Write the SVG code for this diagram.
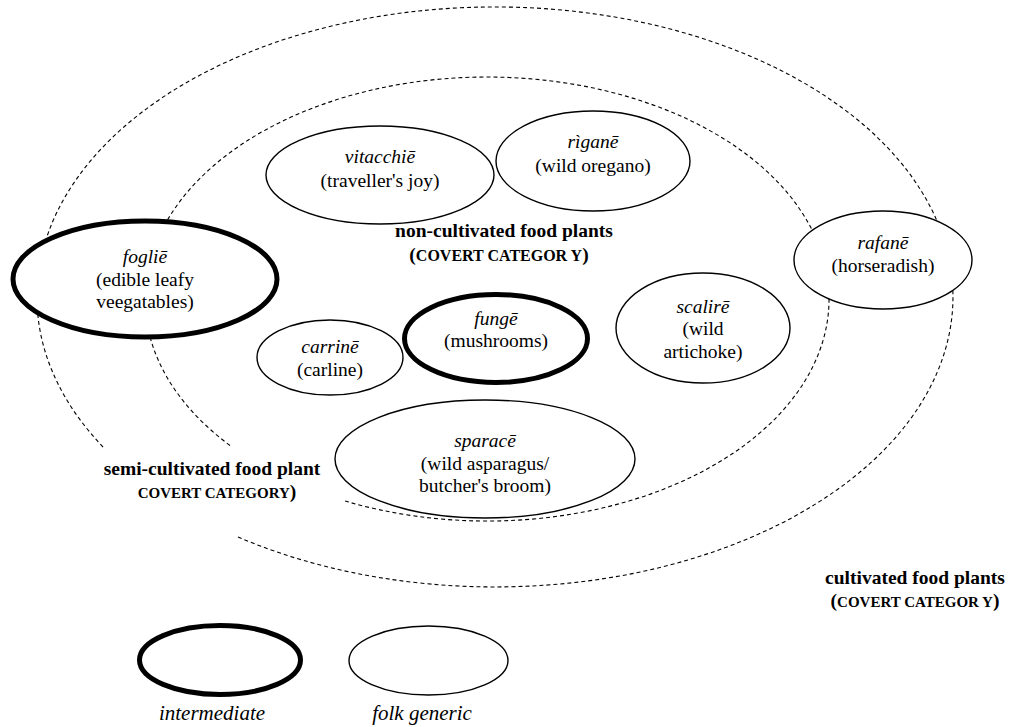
<svg xmlns="http://www.w3.org/2000/svg" width="1012" height="727" viewBox="0 0 1012 727">
<style>
.region{fill:none;stroke:#000;stroke-width:1.1;stroke-dasharray:4 3}
.fg{fill:#fff;stroke:#000;stroke-width:1.4}
.im{fill:#fff;stroke:#000;stroke-width:5}
text{font-family:"Liberation Serif","Times New Roman",serif;font-size:19.5px;fill:#000;text-anchor:middle}
.it{font-style:italic}
.b{font-weight:bold}
.sc{font-size:15px}
.sc2{font-size:16px}
.lg{font-size:21px;font-style:italic}
</style>
<rect width="1012" height="727" fill="#fff"/>
<g id="regions">
<path id="cultivated-boundary" class="region" d="M 238 537 A 458 290 0 1 0 104 448"/>
<path id="noncultivated-boundary" class="region" d="M 345.1 501 A 342 222 0 1 0 232.1 447"/>
</g>
<g id="vitacchie">
<ellipse class="fg" cx="380" cy="175" rx="114" ry="49"/>
<text x="380" y="163" class="it">vitacchiē</text>
<text x="380" y="187">(traveller's joy)</text>
</g>
<g id="rigane">
<ellipse class="fg" cx="593" cy="161" rx="97" ry="50"/>
<text x="593" y="148" class="it">rìganē</text>
<text x="593" y="172">(wild oregano)</text>
</g>
<g id="foglie">
<ellipse class="im" cx="145" cy="279" rx="132" ry="58"/>
<text x="145" y="263" class="it">fogliē</text>
<text x="145" y="286">(edible leafy</text>
<text x="145" y="308">veegatables)</text>
</g>
<g id="rafane">
<ellipse class="fg" cx="883" cy="260" rx="89" ry="49"/>
<text x="883" y="249" class="it">rafanē</text>
<text x="883" y="272">(horseradish)</text>
</g>
<g id="carrine">
<ellipse class="fg" cx="330" cy="357.5" rx="73" ry="37.5"/>
<text x="330" y="353" class="it">carrinē</text>
<text x="330" y="376">(carline)</text>
</g>
<g id="funge">
<ellipse class="im" cx="496" cy="338.5" rx="91.5" ry="44"/>
<text x="496" y="325" class="it">fungē</text>
<text x="496" y="347">(mushrooms)</text>
</g>
<g id="scalire">
<ellipse class="fg" cx="703" cy="328" rx="87" ry="55"/>
<text x="703" y="313" class="it">scalirē</text>
<text x="703" y="335">(wild</text>
<text x="703" y="358">artichoke)</text>
</g>
<g id="sparace">
<ellipse class="fg" cx="485" cy="459" rx="150" ry="59"/>
<text x="485" y="447" class="it">sparacē</text>
<text x="485" y="470">(wild asparagus/</text>
<text x="485" y="492">butcher's broom)</text>
</g>
<g id="labels">
<text x="504" y="237" class="b">non-cultivated food plants</text>
<text x="499" y="261" class="b">(<tspan class="sc2">COVERT CATEGOR Y</tspan>)</text>
<text x="212" y="475" class="b">semi-cultivated food plant</text>
<text x="217" y="498" class="b"><tspan class="sc">COVERT CATEGORY</tspan>)</text>
<text x="915" y="584" class="b">cultivated food plants</text>
<text x="915" y="607" class="b">(<tspan class="sc">COVERT CATEGOR Y</tspan>)</text>
</g>
<g id="legend">
<g id="legend-intermediate">
<ellipse class="im" cx="220" cy="660" rx="80.5" ry="34.5"/>
<text x="212" y="720" class="lg">intermediate</text>
</g>
<g id="legend-folk-generic">
<ellipse class="fg" cx="428.5" cy="660.5" rx="79.5" ry="34.5"/>
<text x="422" y="720" class="lg">folk generic</text>
</g>
</g>
</svg>
